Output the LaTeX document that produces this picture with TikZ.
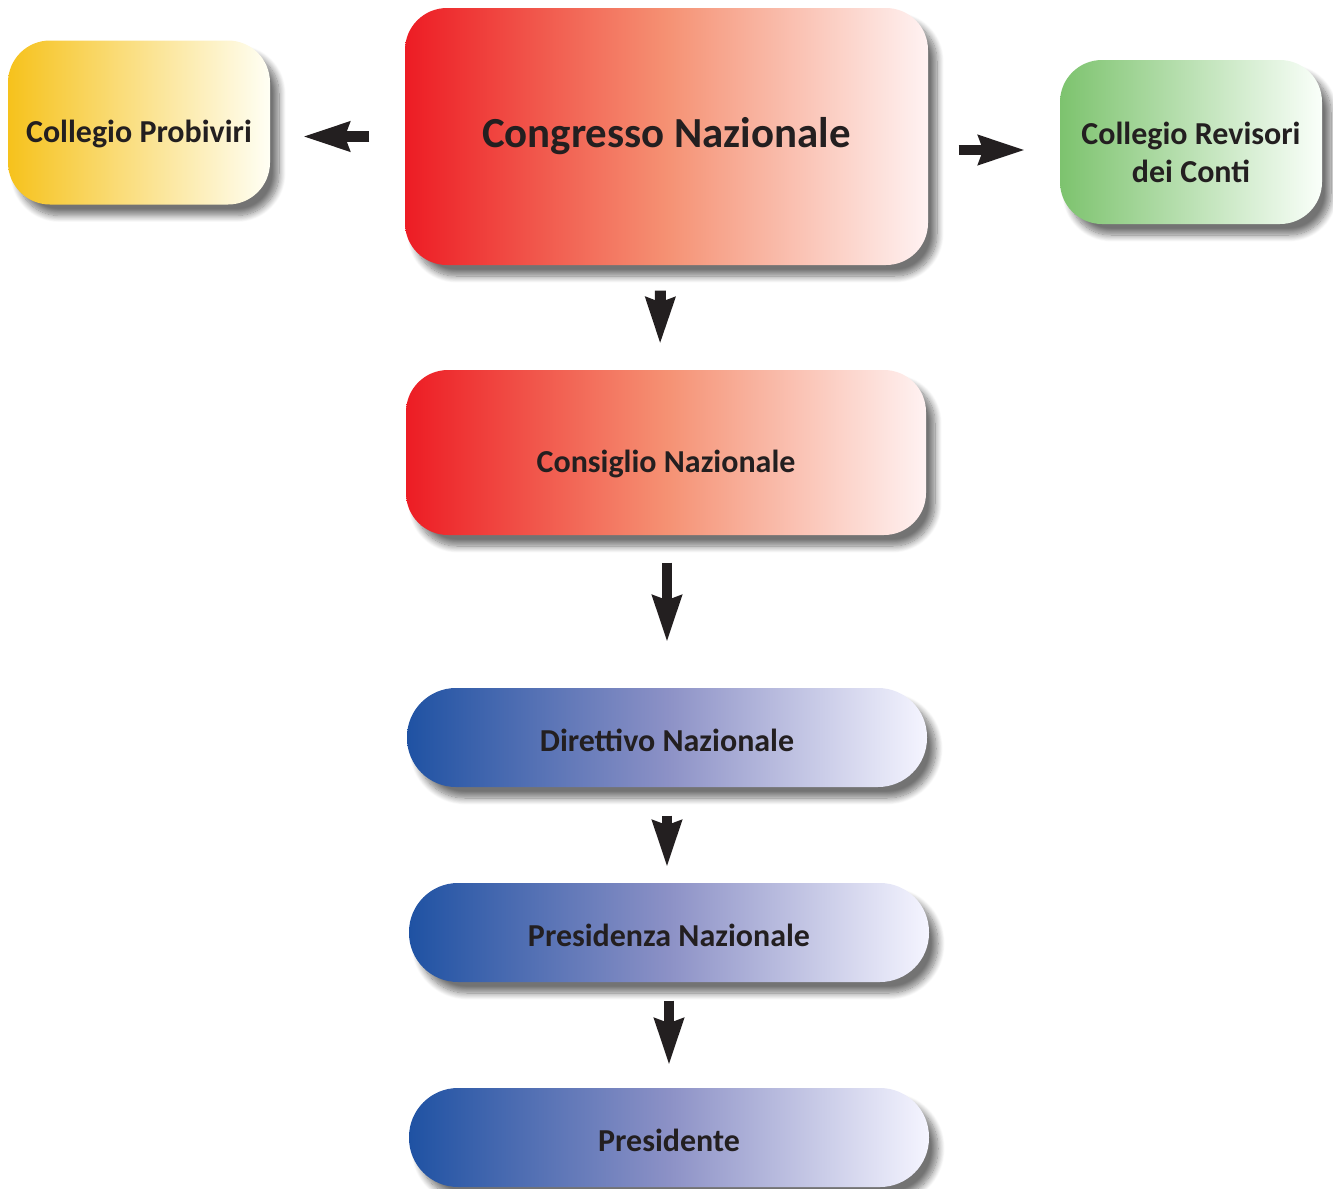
\documentclass[tikz,border=0pt]{standalone}
\usepackage{fontspec}
\setmainfont{Carlito}
\usepackage{tikz}
\usetikzlibrary{arrows.meta,shadows.blur}

\definecolor{giallo}{RGB}{246,194,28}
\definecolor{rosso}{RGB}{237,28,36}
\definecolor{salmone}{RGB}{245,145,115}
\definecolor{verde}{RGB}{125,195,110}
\definecolor{blu}{RGB}{31,82,163}
\definecolor{lilla}{RGB}{140,145,198}
\definecolor{testo}{RGB}{35,31,32}

\tikzset{
  organo/.style={rounded corners=0.42cm, draw=none, text=testo,
    font=\bfseries\fontsize{9.1}{11}\selectfont, align=center,
    blur shadow={shadow xshift=0.9mm, shadow yshift=-1.1mm,
      shadow blur steps=12, shadow opacity=55}},
  laterale/.style={organo, minimum width=2.62cm, minimum height=1.64cm},
  rossa/.style={left color=rosso, right color=red!5!white, middle color=salmone},
  pillola/.style={organo, rounded corners=0.49cm, minimum width=5.2cm,
    minimum height=0.99cm, text height=0.78em, text depth=0pt,
    left color=blu, right color=blue!4!white, middle color=lilla},
  freccia/.style={line width=3.1pt, draw=testo,
    -{Stealth[length=4.6mm, width=2.8mm, inset=0.4mm]}}
}

\begin{document}
\begin{tikzpicture}
\useasboundingbox (0,0) rectangle (13.33,-11.89);
% organi statutari
\node[organo, rossa, minimum width=5.23cm, minimum height=2.57cm,
  font=\bfseries\fontsize{12.2}{14}\selectfont] (congresso) at (6.665,-1.365) {Congresso Nazionale};
\node[laterale, left color=giallo, right color=yellow!4!white,
  text height=1.16em, text depth=0pt] (probiviri) at (1.39,-1.225) {Collegio Probiviri};
\node[laterale, left color=verde, right color=green!2!white] (revisori) at (11.91,-1.42) {\rule{0pt}{0.43cm}Collegio Revisori\\dei Conti};
\node[organo, rossa, minimum width=5.2cm, minimum height=1.65cm,
  text height=1.16em, text depth=0pt] (consiglio) at (6.66,-4.525) {Consiglio Nazionale};
\node[pillola] (direttivo) at (6.67,-7.375) {Direttivo Nazionale};
\node[pillola] (presidenza) at (6.69,-9.325) {Presidenza Nazionale};
\node[pillola] (presidente) at (6.69,-11.375) {Presidente};

% frecce
\draw[freccia, shorten <=0.35cm, shorten >=0.32cm] (congresso.west) -- (congresso.west -| probiviri.east);
\draw[freccia, shorten <=0.3cm, shorten >=0.34cm] (congresso.east |- 0,-1.5) -- (revisori.west |- 0,-1.5);
\draw[freccia, shorten <=0.25cm, shorten >=0.25cm] ([xshift=-0.06cm]congresso.south) -- ([xshift=-0.06cm]consiglio.north);
\draw[freccia, shorten <=0.27cm, shorten >=0.45cm] (consiglio.south -| direttivo.north) -- (direttivo.north);
\draw[freccia, shorten <=0.28cm, shorten >=0.15cm] (direttivo.south) -- (direttivo.south |- presidenza.north);
\draw[freccia, shorten <=0.18cm, shorten >=0.22cm] (presidenza.south) -- (presidente.north);
\end{tikzpicture}
\end{document}
